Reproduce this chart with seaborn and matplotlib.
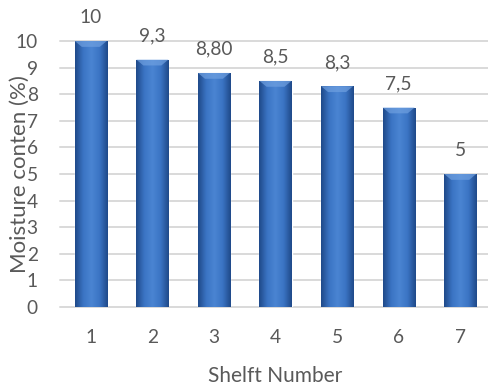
import numpy as np
import pandas as pd
import matplotlib
matplotlib.use("Agg")
import matplotlib.pyplot as plt
import seaborn as sns

shelves = ["1", "2", "3", "4", "5", "6", "7"]
moisture = [10.0, 9.3, 8.80, 8.5, 8.3, 7.5, 5.0]
value_labels = ["10", "9,3", "8,80", "8,5", "8,3", "7,5", "5"]
y_ticks = [0, 1, 2, 3, 4, 5, 6, 7, 8, 9, 10]

sns.set_theme(style="white")
plt.rcParams["font.family"] = ["Lato", "DejaVu Sans"]

text_color = "#595959"
grid_color = "#d9d9d9"
bar_color = "#3568b4"

df = pd.DataFrame({"shelf": shelves, "moisture": moisture})

fig = plt.figure(figsize=(4.88, 3.89), dpi=100)
ax = fig.add_axes([60 / 488, (389 - 307) / 389, 431 / 488, (307 - 41) / 389])

sns.barplot(data=df, x="shelf", y="moisture", color=bar_color, width=0.52,
            saturation=1, ax=ax, zorder=3)

ax.set_ylim(0, 10)
ax.set_xlim(-0.5, 6.5)
ax.set_yticks(y_ticks)
for y in y_ticks:
    ax.axhline(y, color=grid_color, lw=1.4, zorder=1, clip_on=False)

# cylinder-like shading across each bar plus a light bevel on top
grad = np.linspace(0, 1, 64)
shade = 1 - 0.55 * np.abs(grad - 0.5) * 2
cmap = matplotlib.colors.LinearSegmentedColormap.from_list(
    "bar", ["#1f4a8a", "#3b74c4", "#4a84d2"])
for patch, val, lab in zip(ax.patches, moisture, value_labels):
    x0 = patch.get_x()
    w = patch.get_width()
    h = patch.get_height()
    img = ax.imshow(shade[np.newaxis, :], cmap=cmap, vmin=0.45, vmax=1.0,
                    extent=(x0, x0 + w, 0, h), aspect="auto", zorder=4,
                    interpolation="bicubic")
    img.set_clip_path(patch)
    bev = 0.22
    ax.fill([x0, x0 + w, x0 + w - w * 0.22, x0 + w * 0.22],
            [h, h, h - bev, h - bev], color="#6fa0e0", alpha=0.7,
            zorder=5, lw=0)
    ax.text(x0 + w / 2, h + 0.68, lab, ha="center", va="baseline",
            fontsize=13.8, color=text_color, zorder=6, clip_on=False)

sns.despine(ax=ax, left=True, bottom=True, top=True, right=True)
ax.tick_params(axis="both", length=0, labelsize=13.8, colors=text_color)
ax.tick_params(axis="x", pad=16)
ax.tick_params(axis="y", pad=16)
ax.set_xlabel("Shelft Number", fontsize=15, color=text_color)
ax.set_ylabel("Moisture conten (%)", fontsize=16, color=text_color)
ax.xaxis.set_label_coords(0.5, -(366 - 307) / 266)
ax.yaxis.set_label_coords(-(60 - 30) / 431, 0.5)
ax.grid(False)

fig.savefig("out.png", dpi=100)
